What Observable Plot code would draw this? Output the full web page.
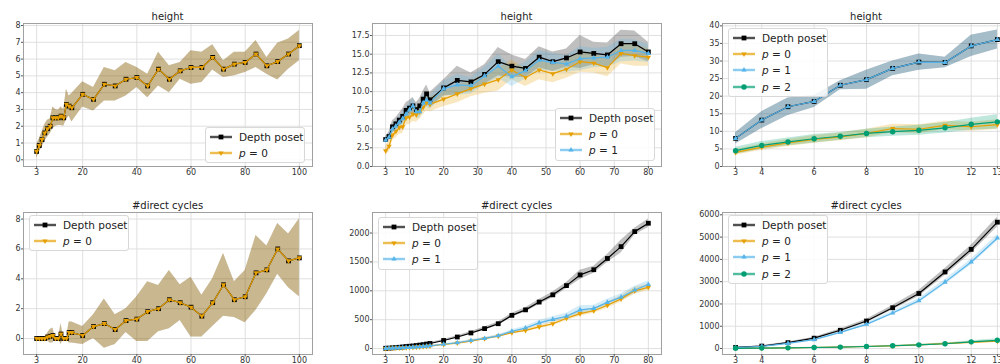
<!DOCTYPE html>
<html><head><meta charset="utf-8">
<script src="https://cdn.jsdelivr.net/npm/d3@7"></script>
<script src="https://cdn.jsdelivr.net/npm/@observablehq/plot@0.6"></script>
<style>
body{margin:0;background:#fff;}
#root{position:relative;width:1000px;height:364px;overflow:hidden;font-family:"DejaVu Sans",sans-serif;background:#fff;}
.panel{position:absolute;}
.title{position:absolute;font-size:10px;line-height:12px;color:#222;white-space:nowrap;transform:translateX(-50%);}
.legend{position:absolute;box-sizing:border-box;background:rgba(255,255,255,0.85);border:1px solid #d8d8d8;border-radius:3px;padding:1px 0 1px 4px;font-size:10.5px;color:#222;}
.legend .row{display:flex;align-items:center;height:16.2px;white-space:nowrap;}
.legend svg{margin-right:7px;flex:none;}
</style></head><body><div id="root"></div>
<script>
// ---------- x values ----------
const xLong = [3,4,5,6,7,8,9,10,11,12,13,14,15,16,20,24,28,32,36,40,44,48,52,56,60,64,68,72,76,80,84,88,92,96,100];
const xMid = [3,4,5,6,7,8,9,10,11,12,13,14,15,16,20,24,28,32,36,40,44,48,52,56,60,64,68,72,76,80];
const xShort = [3,4,5,6,7,8,9,10,11,12,13];

// ---------- tick labels ----------
const xTicksLong = [3,20,40,60,80,100];
const xTicksMid = [3,10,20,30,40,50,60,70,80];
const xTicksShort = [3,4,6,8,10,12,13];
const yTicksH1 = [0,1,2,3,4,5,6,7,8];
const yTicksH2 = [0,2.5,5,7.5,10,12.5,15,17.5];
const yTicksH3 = [0,5,10,15,20,25,30,35,40];
const yTicksC1 = [0,2,4,6,8];
const yTicksC2 = [0,500,1000,1500,2000];
const yTicksC3 = [0,1000,2000,3000,4000,5000,6000];

// ---------- panel 1: height (p = 0 only) ----------
const hA_depth = [0.5,0.85,1.2,1.6,1.85,2.0,2.5,2.5,2.5,2.6,2.5,3.3,3.2,3.1,3.9,3.6,4.5,4.4,4.8,4.9,4.4,5.4,4.8,5.3,5.5,5.5,6.1,5.4,5.7,5.8,6.3,5.6,5.85,6.3,6.8];
const hA_depth_sd = [0.4,0.4,0.45,0.5,0.5,0.45,0.65,0.5,0.45,0.55,0.5,0.9,0.6,0.85,0.75,0.7,1.0,0.9,1.0,0.6,0.7,1.0,0.8,0.5,1.0,0.9,0.75,0.5,0.7,0.6,0.8,0.5,1.1,0.9,0.9];
const hA_p0 = [0.5,0.85,1.2,1.6,1.85,2.0,2.5,2.5,2.5,2.6,2.5,3.3,3.2,3.1,3.9,3.6,4.5,4.4,4.8,4.9,4.4,5.4,4.8,5.3,5.5,5.5,6.1,5.4,5.7,5.8,6.3,5.6,5.85,6.3,6.8];
const hA_p0_sd = [0.4,0.4,0.45,0.5,0.5,0.45,0.65,0.5,0.45,0.55,0.5,0.9,0.6,0.85,0.75,0.7,1.0,0.9,1.0,0.6,0.7,1.0,0.8,0.5,1.0,0.9,0.75,0.5,0.7,0.6,0.8,0.5,1.1,0.9,0.9];

// ---------- panel 2: height (p = 0, 1) ----------
const hB_depth = [3.6,4.0,5.3,5.7,6.2,6.7,7.5,7.8,8.1,7.6,8.1,9.0,9.7,8.9,10.5,11.5,11.3,12.3,14.0,13.4,13.1,14.6,14.0,14.5,15.3,15.1,14.9,16.4,16.4,15.3];
const hB_depth_sd = [0.4,0.6,0.8,0.8,0.9,1.0,1.0,1.0,1.1,0.9,1.0,1.1,1.2,1.0,1.1,1.9,1.2,1.3,1.9,1.5,1.2,1.4,1.3,1.2,2.2,1.5,1.6,1.8,1.7,1.3];
const hB_p0 = [2.1,2.7,4.2,4.7,5.2,5.3,6.5,6.6,7.0,6.9,7.3,7.9,8.5,8.3,9.0,9.7,10.4,11.0,11.6,12.9,11.9,12.9,12.4,13.0,14.0,13.8,13.2,15.1,14.8,14.6];
const hB_p0_sd = [0.6,0.8,0.8,0.9,0.9,0.9,1.0,1.0,1.0,1.0,1.0,1.0,1.1,1.0,1.0,1.2,1.1,1.2,1.5,1.3,1.2,1.3,1.2,1.2,1.4,1.3,1.2,1.4,1.4,1.2];
const hB_p1 = [3.5,3.9,5.0,5.4,5.9,6.4,7.0,7.6,8.1,7.3,7.3,8.5,8.9,8.5,10.4,10.9,10.8,12.1,13.4,12.0,12.8,14.2,13.9,13.7,14.4,14.5,14.6,15.5,15.5,15.1];
const hB_p1_sd = [0.4,0.5,0.7,0.7,0.8,0.9,0.9,0.9,1.0,0.8,0.9,1.0,1.0,0.9,1.0,1.4,1.1,1.2,1.6,1.3,1.1,1.3,1.2,1.1,1.6,1.3,1.3,1.5,1.4,1.2];

// ---------- panel 3: height (p = 0, 1, 2) ----------
const hC_depth = [8.0,13.2,17.0,18.5,23.1,24.7,27.9,29.7,29.6,34.3,36.1];
const hC_depth_sd = [1.6,2.4,2.5,1.7,1.3,2.7,2.1,2.3,1.5,3.0,2.7];
const hC_p0 = [4.0,5.5,6.7,7.7,8.4,9.4,10.8,10.6,11.7,11.3,11.9];
const hC_p0_sd = [0.8,0.9,1.0,1.1,1.1,1.2,1.2,1.3,1.2,1.3,1.4];
const hC_p1 = [8.0,13.2,17.0,18.5,23.1,24.7,27.9,29.7,29.6,34.3,36.1];
const hC_p1_sd = [1.6,2.4,2.5,1.7,1.3,2.7,2.1,2.3,1.5,3.0,2.7];
const hC_p2 = [4.5,6.0,7.0,7.9,8.6,9.4,9.9,10.3,11.0,12.0,12.7];
const hC_p2_sd = [1.0,1.1,1.1,1.2,1.1,1.2,1.3,1.4,1.5,1.7,2.0];

// ---------- panel 4: #direct cycles (p = 0 only) ----------
const cA_depth = [0,0,0,0,0.1,0.15,0.2,0,0,0.3,0,0,0.4,0.4,0.2,0.8,1.0,0.6,1.2,1.3,1.8,2.0,2.6,2.4,2.1,1.5,2.4,3.6,2.6,2.8,4.4,4.6,6.0,5.2,5.4];
const cA_depth_sd = [0,0,0,0,0.25,0.45,0.5,0,0,0.7,0,0,0.7,0.7,0.6,0.8,1.65,1.0,0.8,1.5,2.0,1.55,1.95,1.2,2.0,1.4,1.6,2.1,1.2,1.75,2.5,1.6,1.7,1.8,2.6];
const cA_p0 = [0,0,0,0,0.1,0.15,0.2,0,0,0.3,0,0,0.4,0.4,0.2,0.8,1.0,0.6,1.2,1.3,1.8,2.0,2.6,2.4,2.1,1.5,2.4,3.6,2.6,2.8,4.4,4.6,6.0,5.2,5.4];
const cA_p0_sd = [0,0,0,0,0.25,0.45,0.5,0,0,0.7,0,0,0.7,0.7,0.6,0.8,1.65,1.0,0.8,1.5,2.0,1.55,1.95,1.2,2.0,1.4,1.6,2.1,1.2,1.75,2.5,1.6,1.7,1.8,2.6];

// ---------- panel 5: #direct cycles (p = 0, 1) ----------
const cB_depth = [5,8,12,17,22,28,35,40,45,52,60,68,78,88,140,200,270,345,430,575,670,805,930,1090,1275,1365,1560,1765,2025,2170];
const cB_depth_sd = [2,3,4,5,6,7,8,9,10,11,12,13,14,15,18,20,25,30,30,35,35,45,50,55,80,60,70,110,60,75];
const cB_p0 = [2,3,5,7,9,12,15,18,21,25,29,33,38,43,70,95,130,170,215,275,315,375,430,525,605,655,750,860,1000,1060];
const cB_p0_sd = [1,1,2,2,3,3,4,4,5,5,6,6,7,7,9,10,14,16,18,22,25,30,35,40,45,45,50,55,60,55];
const cB_p1 = [3,4,6,8,11,14,17,20,24,28,32,37,42,47,75,100,140,175,220,300,355,445,505,560,670,695,800,890,1015,1110];
const cB_p1_sd = [1,1,2,2,3,3,4,4,5,5,6,6,7,7,10,12,15,18,20,25,30,40,45,50,70,55,55,60,65,60];

// ---------- panel 6: #direct cycles (p = 0, 1, 2) ----------
const cC_depth = [50,110,265,465,820,1235,1830,2470,3435,4450,5670];
const cC_depth_sd = [10,20,30,40,60,80,100,130,160,180,220];
const cC_p0 = [10,20,30,45,65,90,120,160,220,280,330];
const cC_p0_sd = [3,5,7,9,12,15,20,25,30,40,45];
const cC_p1 = [40,100,230,400,725,1085,1595,2145,2980,3880,4960];
const cC_p1_sd = [8,15,25,35,50,60,80,100,120,130,150];
const cC_p2 = [10,20,30,45,65,90,125,165,215,300,370];
const cC_p2_sd = [3,5,7,9,12,15,20,25,35,50,70];

// ---------- styles ----------
const triangleDown = {draw(ctx, size){ const s = Math.sqrt(size / (3 * Math.sqrt(3) / 4)); const h = s * Math.sqrt(3) / 2; ctx.moveTo(-s/2, -h/3); ctx.lineTo(s/2, -h/3); ctx.lineTo(0, 2*h/3); ctx.closePath(); }};
const triangleUp = {draw(ctx, size){ const s = Math.sqrt(size / (3 * Math.sqrt(3) / 4)); const h = s * Math.sqrt(3) / 2; ctx.moveTo(-s/2, h/3); ctx.lineTo(s/2, h/3); ctx.lineTo(0, -2*h/3); ctx.closePath(); }};
const STY = {
  depth: {label: "Depth poset", color: "#000000", symbol: "square", r: 2.7},
  p0: {label: "p = 0", color: "#E69F00", symbol: triangleDown, r: 3.4},
  p1: {label: "p = 1", color: "#56B4E9", symbol: triangleUp, r: 3.4},
  p2: {label: "p = 2", color: "#009E73", symbol: "circle", r: 2.7}
};
const BAND_OP = 0.25;

const root = document.getElementById("root");
const mL = 40, mR = 6, mT = 6, mB = 18;

function rowsOf(xs, ys, sd){ return xs.map((x,i)=>({x, y: ys[i], lo: ys[i]-sd[i], hi: ys[i]+sd[i]})); }

function panel(cfg){
  const marks = [
    Plot.gridX(cfg.xTicks, {stroke: "#dcdcdc", strokeOpacity: 1, strokeWidth: 0.9}),
    Plot.gridY(cfg.yTicks, {stroke: "#dcdcdc", strokeOpacity: 1, strokeWidth: 0.9})
  ];
  for (const s of cfg.series){
    const st = STY[s.key];
    const rows = rowsOf(cfg.xs, s.y, s.sd);
    marks.push(Plot.areaY(rows, {x: "x", y1: "lo", y2: "hi", fill: st.color, fillOpacity: BAND_OP}));
  }
  for (const s of cfg.series){
    const st = STY[s.key];
    const rows = rowsOf(cfg.xs, s.y, s.sd);
    marks.push(Plot.line(rows, {x: "x", y: "y", stroke: st.color, strokeWidth: 1.2}));
    marks.push(Plot.dot(rows, {x: "x", y: "y", symbol: st.symbol, r: st.r, fill: st.color, stroke: "none"}));
  }
  marks.push(Plot.frame({stroke: "#a0a0a0", strokeWidth: 1}));
  marks.push(Plot.axisX({ticks: cfg.xTicks, label: null, tickSize: 2.5, tickPadding: 0.5, fontSize: 8, stroke: "#555", color: "#333", tickFormat: d => String(d)}));
  marks.push(Plot.axisY({ticks: cfg.yTicks, label: null, tickSize: 2, tickPadding: 1, fontSize: 8, stroke: "#555", color: "#333", tickFormat: cfg.yFormat || (d => String(d))}));
  const svg = Plot.plot({
    width: cfg.w + mL + mR, height: cfg.h + mT + mB,
    marginLeft: mL, marginRight: mR, marginTop: mT, marginBottom: mB,
    x: {type: "linear", domain: cfg.xDomain, label: null},
    y: {type: "linear", domain: cfg.yDomain, label: null},
    style: {fontFamily: "DejaVu Sans", fontSize: "8px", background: "transparent", overflow: "visible"},
    marks
  });
  svg.classList.add("panel");
  svg.style.left = (cfg.left - mL) + "px";
  svg.style.top = (cfg.top - mT) + "px";
  svg.style.position = "absolute";
  root.appendChild(svg);

  const t = document.createElement("div");
  t.className = "title";
  t.textContent = cfg.title;
  t.style.left = (cfg.left + cfg.w/2) + "px";
  t.style.top = (cfg.top - 12) + "px";
  root.appendChild(t);

  const lg = document.createElement("div");
  lg.className = "legend";
  lg.style.left = cfg.legend.left + "px";
  lg.style.top = cfg.legend.top + "px";
  lg.style.width = "100px";
  for (const s of cfg.series){
    const st = STY[s.key];
    const row = document.createElement("div");
    row.className = "row";
    const ns = "http://www.w3.org/2000/svg";
    const sv = document.createElementNS(ns, "svg");
    sv.setAttribute("width", 22); sv.setAttribute("height", 12);
    const band = document.createElementNS(ns, "rect");
    band.setAttribute("x", 0); band.setAttribute("y", 4.5); band.setAttribute("width", 22); band.setAttribute("height", 3);
    band.setAttribute("fill", st.color); band.setAttribute("fill-opacity", 0.3);
    sv.appendChild(band);
    const ln = document.createElementNS(ns, "line");
    ln.setAttribute("x1", 0); ln.setAttribute("x2", 22); ln.setAttribute("y1", 6); ln.setAttribute("y2", 6);
    ln.setAttribute("stroke", st.color); ln.setAttribute("stroke-width", 1.1);
    sv.appendChild(ln);
    const sym = typeof st.symbol === "string" ? (st.symbol === "square" ? d3.symbolSquare : d3.symbolCircle) : st.symbol;
    const p = document.createElementNS(ns, "path");
    p.setAttribute("d", d3.symbol(sym, Math.PI * st.r * st.r)());
    p.setAttribute("transform", "translate(11,6)");
    p.setAttribute("fill", st.color);
    sv.appendChild(p);
    row.appendChild(sv);
    const lab = document.createElement("span");
    if (s.key === "depth") lab.textContent = st.label;
    else { const it = document.createElement("i"); it.textContent = "p"; lab.appendChild(it); lab.appendChild(document.createTextNode(" = " + s.key.slice(1))); }
    row.appendChild(lab);
    lg.appendChild(row);
  }
  root.appendChild(lg);
}

const COLS = [23, 372, 722];
const W = [289, 289, 288];
const TOP1 = 23, H1 = 143, TOP2 = 212, H2 = 142;

panel({title: "height", left: COLS[0], top: TOP1, w: W[0], h: H1, xs: xLong, xDomain: [-1.85, 104.85], yDomain: [-0.40, 8.12], xTicks: xTicksLong, yTicks: yTicksH1,
  series: [{key: "depth", y: hA_depth, sd: hA_depth_sd}, {key: "p0", y: hA_p0, sd: hA_p0_sd}], legend: {left: 205, top: 127}});
panel({title: "height", left: COLS[1], top: TOP1, w: W[1], h: H1, xs: xMid, xDomain: [-0.85, 83.85], yDomain: [0, 19.1], xTicks: xTicksMid, yTicks: yTicksH2, yFormat: d3.format(".1f"),
  series: [{key: "depth", y: hB_depth, sd: hB_depth_sd}, {key: "p0", y: hB_p0, sd: hB_p0_sd}, {key: "p1", y: hB_p1, sd: hB_p1_sd}], legend: {left: 555, top: 108}});
panel({title: "height", left: COLS[2], top: TOP1, w: W[2], h: H1, xs: xShort, xDomain: [2.5, 13.5], yDomain: [0, 40.67], xTicks: xTicksShort, yTicks: yTicksH3,
  series: [{key: "depth", y: hC_depth, sd: hC_depth_sd}, {key: "p0", y: hC_p0, sd: hC_p0_sd}, {key: "p1", y: hC_p1, sd: hC_p1_sd}, {key: "p2", y: hC_p2, sd: hC_p2_sd}], legend: {left: 728, top: 28}});
panel({title: "#direct cycles", left: COLS[0], top: TOP2, w: W[0], h: H2, xs: xLong, xDomain: [-1.85, 104.85], yDomain: [-1.07, 8.44], xTicks: xTicksLong, yTicks: yTicksC1,
  series: [{key: "depth", y: cA_depth, sd: cA_depth_sd}, {key: "p0", y: cA_p0, sd: cA_p0_sd}], legend: {left: 29, top: 215}});
panel({title: "#direct cycles", left: COLS[1], top: TOP2, w: W[1], h: H2, xs: xMid, xDomain: [-0.85, 83.85], yDomain: [-103, 2356], xTicks: xTicksMid, yTicks: yTicksC2,
  series: [{key: "depth", y: cB_depth, sd: cB_depth_sd}, {key: "p0", y: cB_p0, sd: cB_p0_sd}, {key: "p1", y: cB_p1, sd: cB_p1_sd}], legend: {left: 378, top: 217}});
panel({title: "#direct cycles", left: COLS[2], top: TOP2, w: W[2], h: H2, xs: xShort, xDomain: [2.5, 13.5], yDomain: [-268, 6104], xTicks: xTicksShort, yTicks: yTicksC3,
  series: [{key: "depth", y: cC_depth, sd: cC_depth_sd}, {key: "p0", y: cC_p0, sd: cC_p0_sd}, {key: "p1", y: cC_p1, sd: cC_p1_sd}, {key: "p2", y: cC_p2, sd: cC_p2_sd}], legend: {left: 728, top: 215}});
</script>
</body></html>
